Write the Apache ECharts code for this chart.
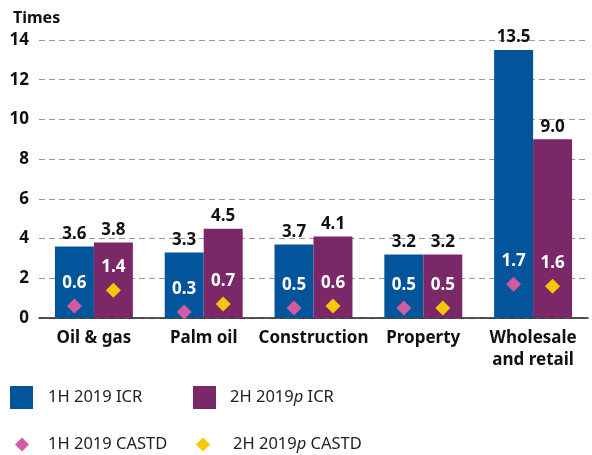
<!DOCTYPE html>
<html lang="en">
<head>
	<meta charset="UTF-8">
	<title>ICR and CASTD by sector</title>
	<script src="https://cdn.jsdelivr.net/npm/echarts@6/dist/echarts.min.js"></script>
	<style>
		html, body { margin: 0; padding: 0; background: #fff; }
		#chart { width: 592px; height: 455px; }
	</style>
</head>
<body>
	<div id="chart"></div>

	<script type="text/javascript">
		// sectors on the x axis
		var sectors = ['Oil & gas', 'Palm oil', 'Construction', 'Property', 'Wholesale\nand retail'];
		// interest coverage ratio (bars)
		var icr1H = [3.6, 3.3, 3.7, 3.2, 13.5];
		var icr2H = [3.8, 4.5, 4.1, 3.2, 9.0];
		// CASTD (diamonds)
		var castd1H = [0.6, 0.3, 0.5, 0.5, 1.7];
		var castd2H = [1.4, 0.7, 0.6, 0.5, 1.6];
		var yTicks = [0, 2, 4, 6, 8, 10, 12, 14];

		var FONT = '"Noto Sans", "DejaVu Sans", sans-serif';
		var BLUE = '#02559b', PURPLE = '#7a2868', PINK = '#d35b9f', YELLOW = '#f5c800';

		var myChart = echarts.init(document.getElementById('chart'));

		// one legend per entry so each sits where the original has it
		function legendAt(name, left, top, size, icon, gap) {
			return {
				data: [{ name: name, icon: icon }],
				left: left,
				top: top,
				padding: 0,
				itemWidth: size,
				itemHeight: size,
				itemGap: 0,
				selectedMode: false,
				textStyle: {
					fontFamily: FONT, fontSize: 16.5, color: '#222', padding: [0, 0, 0, gap],
					rich: { i: { fontFamily: FONT, fontSize: 16.5, fontStyle: 'italic', color: '#222' } }
				},
				formatter: function (n) { return n.replace('2019p', '2019{i|p}'); }
			};
		}

		function valueLabel(color, dist) {
			return {
				show: true, position: 'top', distance: dist, color: color, fontSize: 17,
				fontWeight: 'bold', fontFamily: FONT,
				formatter: function (p) { return p.value.toFixed(1); }
			};
		}

		myChart.setOption({
			animation: false,
			textStyle: { fontFamily: FONT },
			title: {
				text: 'Times',
				left: 8,
				top: 5,
				textStyle: { fontFamily: FONT, fontSize: 16, fontWeight: 'bold', color: '#111' }
			},
			legend: [
				legendAt('1H 2019 ICR', 10, 386, 23, 'rect', 10),
				legendAt('2H 2019p ICR', 193, 386, 23, 'rect', 9),
				legendAt('1H 2019 CASTD', 15, 436, 14, 'diamond', 14),
				legendAt('2H 2019p CASTD', 196, 436, 14, 'diamond', 18)
			],
			grid: { left: 39, right: 4, top: 40, bottom: 137 },
			xAxis: {
				type: 'category',
				data: sectors,
				axisLine: { lineStyle: { color: '#222', width: 1.5 } },
				axisTick: { length: 8, lineStyle: { color: '#222', width: 1.5 } },
				axisLabel: {
					interval: 0, margin: 9, color: '#111', fontSize: 17, fontWeight: 'bold',
					lineHeight: 22, fontFamily: FONT
				}
			},
			yAxis: {
				type: 'value',
				min: 0,
				max: 14,
				interval: 2,
				axisLine: { show: false },
				axisTick: { show: false },
				axisLabel: {
					margin: 10, color: '#111', fontSize: 17, fontWeight: 'bold', fontFamily: FONT,
					formatter: function (v) { return yTicks.indexOf(v) >= 0 ? String(v) : ''; }
				},
				splitLine: { lineStyle: { color: '#999', type: [6, 4], width: 1.2 } }
			},
			series: [
				{
					name: '1H 2019 ICR', type: 'bar', data: icr1H, barGap: 0, barCategoryGap: '29%',
					itemStyle: { color: BLUE },
					label: valueLabel('#111', 4)
				},
				{
					name: '2H 2019p ICR', type: 'bar', data: icr2H, barGap: 0, barCategoryGap: '29%',
					itemStyle: { color: PURPLE },
					label: valueLabel('#111', 4)
				},
				{
					name: '1H 2019 CASTD', type: 'pictorialBar', data: castd1H,
					barGap: 0, barCategoryGap: '29%', z: 5,
					symbol: 'diamond', symbolSize: [15, 15], symbolPosition: 'end',
					symbolOffset: [0, '-50%'],
					itemStyle: { color: PINK },
					label: valueLabel('#fff', 7)
				},
				{
					name: '2H 2019p CASTD', type: 'pictorialBar', data: castd2H,
					barGap: 0, barCategoryGap: '29%', z: 5,
					symbol: 'diamond', symbolSize: [15, 15], symbolPosition: 'end',
					symbolOffset: [0, '-50%'],
					itemStyle: { color: YELLOW },
					label: valueLabel('#fff', 7)
				}
			]
		});
	</script>
</body>
</html>
